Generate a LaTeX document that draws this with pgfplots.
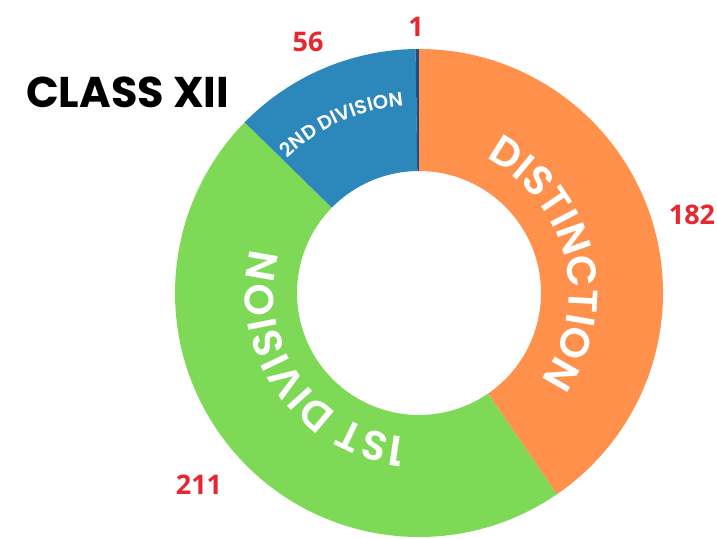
\documentclass[border=0pt]{standalone}
\usepackage{pgfplots}
\pgfplotsset{compat=1.18}
\usepackage{pgfplotstable}
\usepackage{fontspec}
\setmainfont{Poppins}
\newfontfamily\numfont{Open Sans}
\newfontfamily\ringfont{Poppins SemiBold}
\usetikzlibrary{decorations.text}
\definecolor{cDist}{HTML}{FF914D}
\definecolor{cFirst}{HTML}{7ED957}
\definecolor{cSecond}{HTML}{2C87BA}
\definecolor{cOther}{HTML}{1F4C82}
\definecolor{cRed}{HTML}{E8262D}

\pgfplotstableread{
name value
Distinction 182
FirstDivision 211
SecondDivision 56
Other 1
}\results

\def\cx{419}\def\cy{245}\def\Ro{244}\def\Ri{122}

\newcommand\ringseg[3]{%
  \pgfmathsetmacro\xa{\cx+\Ro*cos(#2)}\pgfmathsetmacro\ya{\cy+\Ro*sin(#2)}%
  \pgfmathsetmacro\xb{\cx+\Ri*cos(#3)}\pgfmathsetmacro\yb{\cy+\Ri*sin(#3)}%
  \edef\tmp{\noexpand\fill[#1] (axis cs:\xa,\ya) arc[start angle=#2,end angle=#3,radius=\Ro pt] -- (axis cs:\xb,\yb) arc[start angle=#3,end angle=#2,radius=\Ri pt] -- cycle;}\tmp}

% #1 text, #2 font size, #3 centre angle, #4 half span, #5 baseline radius
\newcommand\ringtext[5]{%
  \pgfmathsetmacro\ts{#3+#4}\pgfmathsetmacro\te{#3-#4}%
  \pgfmathsetmacro\xa{\cx+#5*cos(\ts)}\pgfmathsetmacro\ya{\cy+#5*sin(\ts)}%
  \edef\tmp{\noexpand\path[decorate,decoration={text along path,text align=center,text color=white,text={|\noexpand\ringfont\noexpand\fontsize{#2}{#2}\noexpand\selectfont|#1}}] (axis cs:\xa,\ya) arc[start angle=\ts,end angle=\te,radius=#5 pt];}\tmp}

\begin{document}
\begin{tikzpicture}
\pgfplotstablegetelem{0}{value}\of\results \let\vA\pgfplotsretval
\pgfplotstablegetelem{1}{value}\of\results \let\vB\pgfplotsretval
\pgfplotstablegetelem{2}{value}\of\results \let\vC\pgfplotsretval
\pgfplotstablegetelem{3}{value}\of\results \let\vD\pgfplotsretval
\pgfmathsetmacro\tot{\vA+\vB+\vC+\vD}
\pgfmathsetmacro\aA{90}
\pgfmathsetmacro\aB{\aA-360*(\vA/\tot)}
\pgfmathsetmacro\aC{\aB-360*(\vB/\tot)}
\pgfmathsetmacro\aD{\aC-360*(\vC/\tot)}
\pgfmathsetmacro\aE{\aD-360*(\vD/\tot)}
\begin{axis}[x=1pt,y=1pt,xmin=0,xmax=717,ymin=0,ymax=538,hide axis,clip=false]
\ringseg{cDist}{\aA}{\aB}
\ringseg{cFirst}{\aB}{\aC}
\ringseg{cSecond}{\aC}{\aD}
\ringseg{cOther}{\aD}{\aE}
\ringtext{DISTINCTION}{41}{14}{80}{150}
\ringtext{1ST DIVISION}{41}{-145.5}{80}{145}
\ringtext{2ND DIVISION}{19.5}{114.5}{40}{188}
\node[anchor=base west,inner sep=0pt,font=\bfseries\fontsize{43}{43}\selectfont] at (axis cs:26,430) {CLASS XII};
\begin{scope}[every node/.style={inner sep=0pt,text=cRed,font=\numfont\bfseries\fontsize{27}{27}\selectfont}]
\node at (axis cs:416,511) {\vD};
\node at (axis cs:308,496) {\vC};
\node at (axis cs:692,323) {\vA};
\node at (axis cs:199,53) {\vB};
\end{scope}
\end{axis}
\pgfresetboundingbox
\path (current axis.south west) rectangle (current axis.north east);
\end{tikzpicture}
\end{document}
